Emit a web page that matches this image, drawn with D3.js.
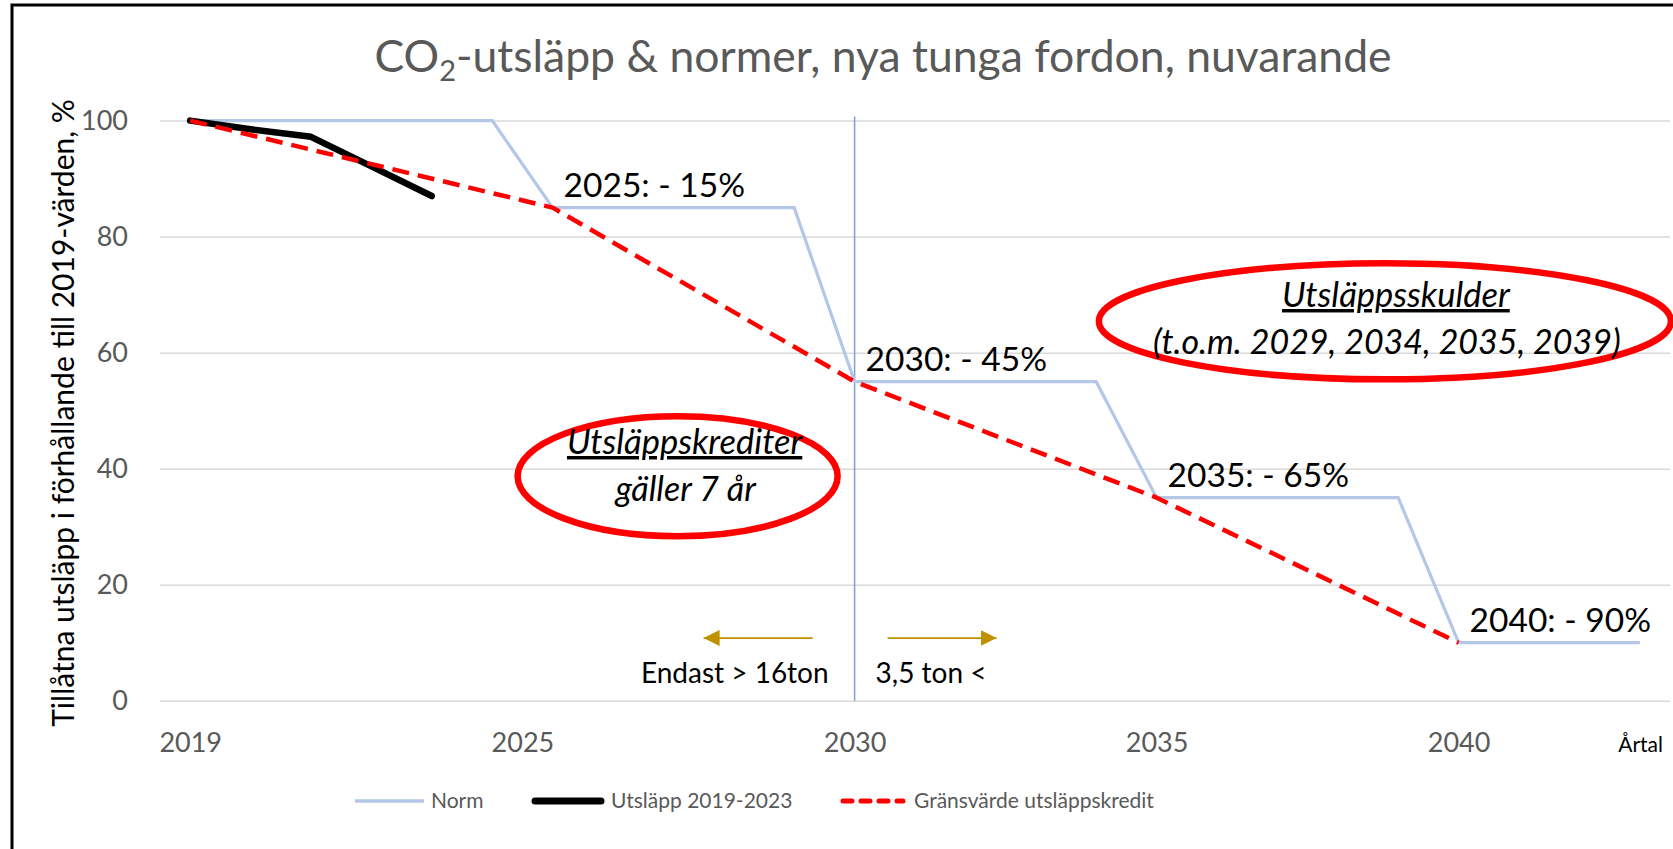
<!DOCTYPE html>
<html>
<head>
<meta charset="utf-8">
<script src="https://cdn.jsdelivr.net/npm/d3@7"></script>
<style>
    body { margin: 0; background: #fff; }
    svg text { font-family: Lato, "Open Sans", sans-serif; }
</style>
</head>
<body>
<svg id="chart"></svg>
<script>
// data
const normYears = [2019, 2024, 2025, 2029, 2030, 2034, 2035, 2039, 2040, 2043]
const normValues = [100, 100, 85, 85, 55, 55, 35, 35, 10, 10]
const emissionYears = [2019, 2020, 2021, 2022, 2023]
const emissionValues = [100, 98.5, 97.2, 92.1, 87]
const limitYears = [2019, 2025, 2030, 2035, 2040]
const limitValues = [100, 85, 55, 35, 10]

const yTicks = [0, 20, 40, 60, 80, 100]
const xTickYears = [2019, 2024.5, 2030, 2035, 2040]
const xTickLabels = ["2019", "2025", "2030", "2035", "2040"]

const stepYears = [2025, 2030, 2035, 2040]
const stepValues = [85, 55, 35, 10]
const stepLabels = ["2025: - 15%", "2030: - 45%", "2035: - 65%", "2040: - 90%"]

const seriesNames = ["Norm", "Utsläpp 2019-2023", "Gränsvärde utsläppskredit"]
const creditNote = ["Utsläppskrediter", "gäller 7 år"]
const debtNote = ["Utsläppsskulder", "(t.o.m. 2029, 2034, 2035, 2039)"]
const splitYear = 2030
const splitLabels = ["Endast > 16ton", "3,5 ton <"]

;(function () {
    const width = 1673
    const height = 849
    const gray = "#595959"

    const svg = d3.select("#chart")
        .attr("width", width)
        .attr("height", height)

    svg.append("rect")
        .attr("width", width)
        .attr("height", height)
        .attr("fill", "#fff")

    // frame, only left + top are visible in the crop
    svg.append("rect")
        .attr("x", 12)
        .attr("y", 5)
        .attr("width", width + 20)
        .attr("height", height + 20)
        .attr("fill", "none")
        .attr("stroke", "#000")
        .attr("stroke-width", 3)

    const x = d3.scaleLinear().domain([2018.5, 2043.5]).range([160, 1670])
    const y = d3.scaleLinear().domain([0, 100]).range([700.7, 120.6])

    // title
    const title = svg.append("text")
        .attr("x", 883)
        .attr("y", 72)
        .attr("text-anchor", "middle")
        .attr("fill", gray)
        .attr("font-size", 44.5)
    title.append("tspan").text("CO")
    title.append("tspan").attr("font-size", 29).attr("dy", 9).text("2")
    title.append("tspan").attr("dy", -9).text("-utsläpp & normer, nya tunga fordon, nuvarande")

    // y grid + labels
    const yAxis = svg.append("g")
        .attr("class", "axis y-axis")
        .attr("transform", `translate(${x.range()[0]},0)`)
        .call(d3.axisLeft(y).tickValues(yTicks).tickSize(-(x.range()[1] - x.range()[0])).tickPadding(32))
    yAxis.select(".domain").remove()
    yAxis.selectAll("line").attr("stroke", "#d9d9d9").attr("stroke-width", 1.5)
    yAxis.selectAll("text")
        .attr("fill", gray)
        .attr("font-size", 27)
        .attr("font-family", "Lato, sans-serif")

    svg.append("text")
        .attr("transform", `translate(74,413) rotate(-90)`)
        .attr("text-anchor", "middle")
        .attr("font-size", 30)
        .attr("fill", "#000")
        .text("Tillåtna utsläpp i förhållande till 2019-värden, %")

    // x labels
    const xAxis = svg.append("g")
        .attr("class", "axis x-axis")
        .attr("transform", `translate(0,${y(0)})`)
        .call(d3.axisBottom(x).tickValues(xTickYears).tickSize(0).tickFormat((d, i) => xTickLabels[i]))
    xAxis.select(".domain").remove()
    xAxis.selectAll("text")
        .attr("y", 51)
        .attr("dy", 0)
        .attr("fill", gray)
        .attr("font-size", 27)
        .attr("font-family", "Lato, sans-serif")

    svg.append("text")
        .attr("x", 1663)
        .attr("y", y(0) + 51)
        .attr("text-anchor", "end")
        .attr("font-size", 21)
        .attr("fill", "#000")
        .text("Årtal")

    // vertical split line at 2030
    svg.append("line")
        .attr("x1", x(splitYear)).attr("x2", x(splitYear))
        .attr("y1", y(100) - 4).attr("y2", y(0))
        .attr("stroke", "#7f9fd8")
        .attr("stroke-width", 1.5)

    const line = d3.line()
        .x(d => x(d[0]))
        .y(d => y(d[1]))

    svg.append("path")
        .datum(d3.zip(normYears, normValues))
        .attr("fill", "none")
        .attr("stroke", "#b4c7e7")
        .attr("stroke-width", 3.2)
        .attr("d", line)

    svg.append("path")
        .datum(d3.zip(emissionYears, emissionValues))
        .attr("fill", "none")
        .attr("stroke", "#000")
        .attr("stroke-width", 6.5)
        .attr("stroke-linecap", "round")
        .attr("stroke-linejoin", "round")
        .attr("d", line)

    svg.append("path")
        .datum(d3.zip(limitYears, limitValues))
        .attr("fill", "none")
        .attr("stroke", "#ff0000")
        .attr("stroke-width", 4.5)
        .attr("stroke-dasharray", "17,9")
        .attr("stroke-linejoin", "round")
        .attr("d", line)

    // step labels
    svg.selectAll(".step-label")
        .data(stepLabels)
        .join("text")
        .attr("class", "step-label")
        .attr("x", (d, i) => x(stepYears[i]) + 11)
        .attr("y", (d, i) => y(stepValues[i]) - 11)
        .attr("font-size", 33.5)
        .attr("fill", "#000")
        .text(d => d)

    // arrows either side of 2030
    svg.append("defs").append("marker")
        .attr("id", "head")
        .attr("viewBox", "0 0 10 10")
        .attr("refX", 10).attr("refY", 5)
        .attr("markerUnits", "userSpaceOnUse")
        .attr("markerWidth", 16).attr("markerHeight", 16)
        .attr("orient", "auto")
        .append("path")
        .attr("d", "M0,0L10,5L0,10z")
        .attr("fill", "#bf9000")

    const arrowY = y(10.8)
    svg.append("line")
        .attr("x1", x(splitYear) - 42).attr("x2", x(splitYear) - 151)
        .attr("y1", arrowY).attr("y2", arrowY)
        .attr("stroke", "#bf9000").attr("stroke-width", 1.8)
        .attr("marker-end", "url(#head)")
    svg.append("line")
        .attr("x1", x(splitYear) + 33).attr("x2", x(splitYear) + 142)
        .attr("y1", arrowY).attr("y2", arrowY)
        .attr("stroke", "#bf9000").attr("stroke-width", 1.8)
        .attr("marker-end", "url(#head)")

    svg.append("text")
        .attr("x", x(splitYear) - 26)
        .attr("y", y(0) - 18)
        .attr("text-anchor", "end")
        .attr("font-size", 28)
        .text(splitLabels[0])
    svg.append("text")
        .attr("x", x(splitYear) + 21)
        .attr("y", y(0) - 18)
        .attr("font-size", 28)
        .text(splitLabels[1])

    // the two red ellipses
    function note(cx, cy, rx, ry, dx, lines, baseA, baseB) {
        svg.append("ellipse")
            .attr("cx", cx).attr("cy", cy)
            .attr("rx", rx).attr("ry", ry)
            .attr("fill", "none")
            .attr("stroke", "#ff0000")
            .attr("stroke-width", 6.5)
        svg.append("text")
            .attr("x", cx + dx[0]).attr("y", baseA)
            .attr("text-anchor", "middle")
            .attr("font-size", 34.5)
            .attr("font-style", "italic")
            .attr("text-decoration", "underline")
            .text(lines[0])
        svg.append("text")
            .attr("x", cx + dx[1]).attr("y", baseB)
            .attr("text-anchor", "middle")
            .attr("font-size", 34)
            .attr("font-style", "italic")
            .text(lines[1])
    }
    note(x(2027.07), y(38.7), 160, 60, [7, 8], creditNote, 454, 501)
    note(x(2038.78), y(65.4), 286, 58, [11, 2], debtNote, 307, 354)

    // legend
    const legend = svg.append("g").attr("transform", "translate(0,801)")
    const samples = [
        { x0: 355, x1: 424, stroke: "#b4c7e7", w: 3.5, dash: null, cap: "butt" },
        { x0: 535, x1: 601, stroke: "#000", w: 7, dash: null, cap: "round" },
        { x0: 843, x1: 903, stroke: "#ff0000", w: 5, dash: "9,9", cap: "round" }
    ]
    samples.forEach(function (s, i) {
        legend.append("line")
            .attr("x1", s.x0).attr("x2", s.x1)
            .attr("stroke", s.stroke)
            .attr("stroke-width", s.w)
            .attr("stroke-linecap", s.cap)
            .attr("stroke-dasharray", s.dash)
        legend.append("text")
            .attr("x", [431, 611, 914][i])
            .attr("dy", "0.35em")
            .attr("font-size", 21)
            .attr("fill", gray)
            .text(seriesNames[i])
    })
})()
</script>
</body>
</html>
